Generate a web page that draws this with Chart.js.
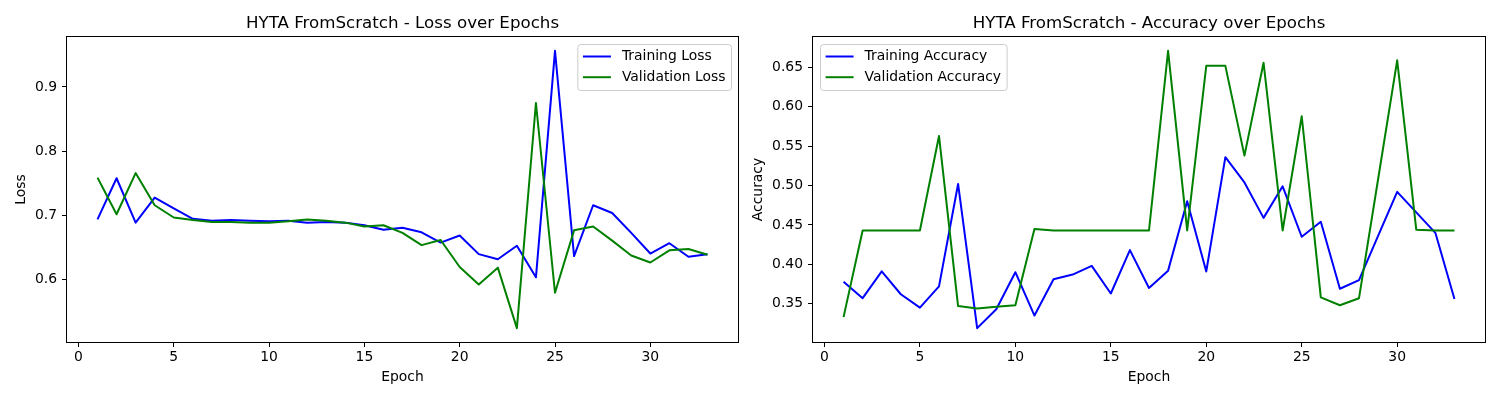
<!DOCTYPE html>
<html>
<head>
<meta charset="utf-8">
<script src="https://cdn.jsdelivr.net/npm/chart.js@4.4.0/dist/chart.umd.min.js"></script>
<style>
  html, body { margin: 0; padding: 0; background: #fff; }
  #wrap { display: flex; width: 1500px; height: 400px; }
  canvas { display: block; }
</style>
</head>
<body>
<div id="wrap">
  <canvas id="lossChart" width="750" height="400"></canvas>
  <canvas id="accChart" width="750" height="400"></canvas>
</div>
<script>
// values
const epochs = [1, 2, 3, 4, 5, 6, 7, 8, 9, 10, 11, 12, 13, 14, 15, 16, 17,
                18, 19, 20, 21, 22, 23, 24, 25, 26, 27, 28, 29, 30, 31, 32, 33];

const lossTrain = [0.694, 0.758, 0.689, 0.728, 0.711, 0.695, 0.692, 0.693, 0.692, 0.691, 0.692,
                   0.689, 0.690, 0.689, 0.685, 0.678, 0.681, 0.674, 0.658, 0.669, 0.640, 0.632,
                   0.653, 0.604, 0.956, 0.637, 0.716, 0.704, 0.673, 0.641, 0.657, 0.636, 0.640];
const lossVal = [0.759, 0.702, 0.766, 0.716, 0.697, 0.693, 0.690, 0.690, 0.689, 0.689, 0.691,
                 0.694, 0.692, 0.689, 0.683, 0.685, 0.673, 0.654, 0.662, 0.620, 0.593, 0.619,
                 0.525, 0.875, 0.580, 0.677, 0.683, 0.661, 0.638, 0.627, 0.646, 0.648, 0.639];

const accTrain = [0.378, 0.357, 0.391, 0.362, 0.345, 0.372, 0.502, 0.319, 0.343, 0.390, 0.335,
                  0.381, 0.387, 0.398, 0.363, 0.418, 0.370, 0.392, 0.480, 0.391, 0.536, 0.504,
                  0.459, 0.499, 0.435, 0.454, 0.369, 0.380, 0.436, 0.492, 0.466, 0.440, 0.356];
const accVal = [0.333, 0.443, 0.443, 0.443, 0.443, 0.563, 0.347, 0.344, 0.346, 0.348, 0.445,
                0.443, 0.443, 0.443, 0.443, 0.443, 0.443, 0.671, 0.443, 0.652, 0.652, 0.538,
                0.656, 0.443, 0.588, 0.358, 0.348, 0.357, 0.508, 0.659, 0.444, 0.443, 0.443];

const epochTicks = [0, 5, 10, 15, 20, 25, 30];
const lossTicks = [0.6, 0.7, 0.8, 0.9];
const accTicks = [0.35, 0.40, 0.45, 0.50, 0.55, 0.60, 0.65];

const FONT = 'DejaVu Sans';
const font = { family: FONT, size: 13.9 };

// matplotlib style auto limits, 5% margin
function padRange(a, b) {
    const lo = Math.min(...a, ...b), hi = Math.max(...a, ...b);
    const m = (hi - lo) * 0.05;
    return [lo - m, hi + m];
}

// black box round the plot area
const framePlugin = {
    id: 'frame',
    afterDatasetsDraw(chart) {
        const a = chart.chartArea, ctx = chart.ctx;
        ctx.save();
        ctx.strokeStyle = '#000';
        ctx.lineWidth = 1;
        ctx.strokeRect(Math.round(a.left) - 0.5, Math.round(a.top) - 0.5,
                       Math.round(a.right - a.left) + 1, Math.round(a.bottom - a.top) + 1);
        ctx.restore();
    }
};

// legend inside the plot, like matplotlib's
const boxLegend = {
    id: 'boxLegend',
    afterDraw(chart, args, opts) {
        const ctx = chart.ctx, a = chart.chartArea;
        ctx.save();
        ctx.font = font.size + 'px "' + FONT + '"';
        const items = chart.data.datasets;
        const textW = Math.max(...items.map(d => ctx.measureText(d.label).width));
        const pad = 5.6, handle = 28, gap = 11;
        const w = pad + handle + gap + textW + pad;
        const h = 46;
        const x = opts.side === 'right' ? a.right - 7 - w : a.left + 7;
        const y = a.top + 7;
        ctx.beginPath();
        if (ctx.roundRect) ctx.roundRect(x + 0.5, y + 0.5, w, h, 3);
        else ctx.rect(x + 0.5, y + 0.5, w, h);
        ctx.fillStyle = 'rgba(255,255,255,0.8)';
        ctx.fill();
        ctx.strokeStyle = '#cccccc';
        ctx.lineWidth = 1;
        ctx.stroke();
        items.forEach((d, i) => {
            const ly = y + 12.5 + i * 20.7;
            ctx.beginPath();
            ctx.moveTo(x + pad, ly);
            ctx.lineTo(x + pad + handle, ly);
            ctx.strokeStyle = d.borderColor;
            ctx.lineWidth = 2;
            ctx.stroke();
            ctx.fillStyle = '#000';
            ctx.textBaseline = 'middle';
            ctx.fillText(d.label, x + pad + handle + gap, ly);
        });
        ctx.restore();
    }
};

function makeChart(id, cfg) {
    const [xMin, xMax] = padRange(epochs, epochs);
    const [yMin, yMax] = padRange(cfg.train, cfg.val);
    return new Chart(document.getElementById(id), {
        type: 'line',
        data: {
            datasets: [
                { label: cfg.names[0], data: epochs.map((e, i) => ({ x: e, y: cfg.train[i] })),
                  borderColor: '#0000ff', order: 1 },
                { label: cfg.names[1], data: epochs.map((e, i) => ({ x: e, y: cfg.val[i] })),
                  borderColor: '#008000', order: 0 }
            ]
        },
        options: {
            responsive: false,
            animation: false,
            devicePixelRatio: 1,
            datasets: {
                line: { borderWidth: 2, pointRadius: 0, tension: 0, fill: false,
                        borderJoinStyle: 'round', backgroundColor: 'transparent' }
            },
            layout: { padding: { left: 0, right: cfg.padRight, top: 0, bottom: 0 } },
            plugins: {
                legend: { display: false },
                tooltip: { enabled: false },
                title: {
                    display: true, text: cfg.title, fullSize: false, color: '#000',
                    font: { family: FONT, size: 16.67, weight: 'normal' },
                    padding: { top: 14, bottom: 3 }
                },
                boxLegend: { side: cfg.legendSide }
            },
            scales: {
                x: {
                    type: 'linear', min: xMin, max: xMax,
                    afterFit: s => { s.height = 58; },
                    afterBuildTicks: s => { s.ticks = epochTicks.map(v => ({ value: v })); },
                    grid: { drawOnChartArea: false, drawTicks: true, tickLength: 5, color: '#000' },
                    border: { display: false },
                    ticks: { autoSkip: false, maxRotation: 0, padding: 2, color: '#000', font: font,
                             callback: v => v.toFixed(0) },
                    title: { display: true, text: 'Epoch', color: '#000', font: font,
                             padding: { top: 0, bottom: 14 } }
                },
                y: {
                    type: 'linear', min: yMin, max: yMax,
                    afterFit: s => { s.width = cfg.yAxisWidth; },
                    afterBuildTicks: s => { s.ticks = cfg.yTicks.map(v => ({ value: v })); },
                    grid: { drawOnChartArea: false, drawTicks: true, tickLength: 5, color: '#000' },
                    border: { display: false },
                    ticks: { autoSkip: false, padding: 5, color: '#000', font: font,
                             callback: v => v.toFixed(cfg.decimals) },
                    title: { display: true, text: cfg.yLabel, color: '#000', font: font,
                             padding: { top: cfg.yTitlePad, bottom: 0 } }
                }
            }
        },
        plugins: [framePlugin, boxLegend]
    });
}

makeChart('lossChart', {
    title: 'HYTA FromScratch - Loss over Epochs',
    yLabel: 'Loss',
    names: ['Training Loss', 'Validation Loss'],
    train: lossTrain, val: lossVal,
    yTicks: lossTicks, decimals: 1,
    legendSide: 'right',
    padRight: 12, yAxisWidth: 67, yTitlePad: 13.4
});

makeChart('accChart', {
    title: 'HYTA FromScratch - Accuracy over Epochs',
    yLabel: 'Accuracy',
    names: ['Training Accuracy', 'Validation Accuracy'],
    train: accTrain, val: accVal,
    yTicks: accTicks, decimals: 2,
    legendSide: 'left',
    padRight: 15, yAxisWidth: 63, yTitlePad: 0
});
</script>
</body>
</html>
